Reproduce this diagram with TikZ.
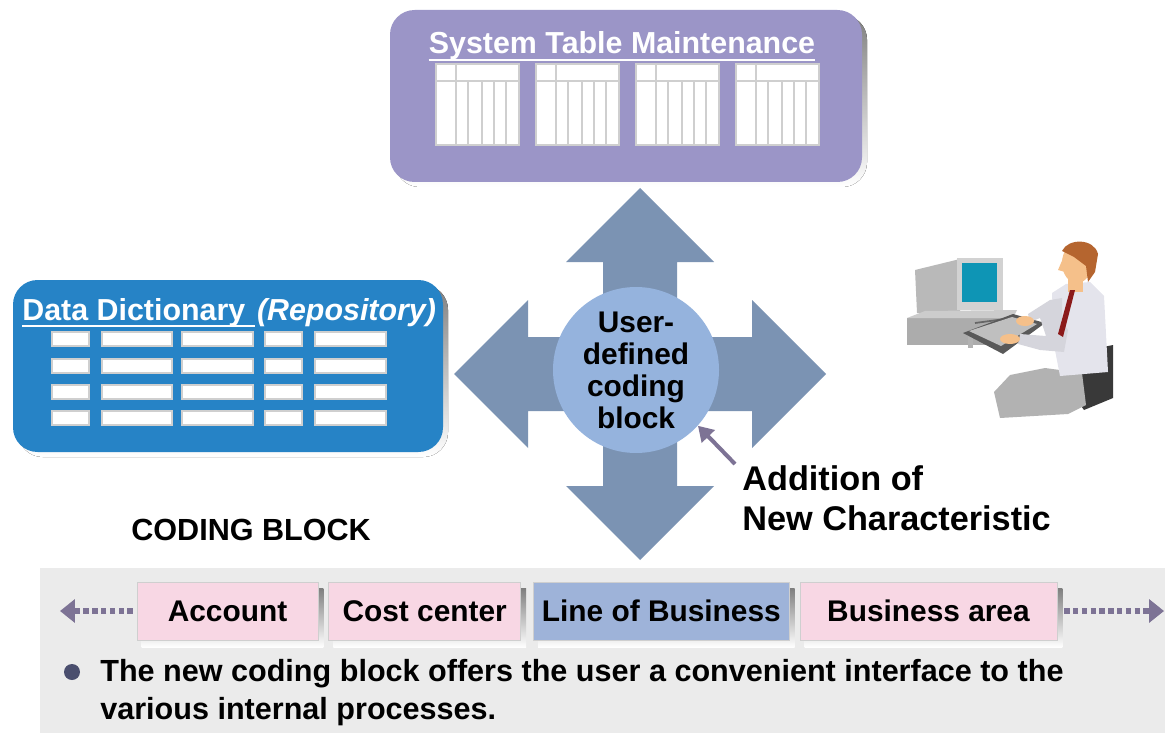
\documentclass[tikz,border=0pt]{standalone}
\usepackage{fontspec}
\setmainfont{Liberation Sans}
\usetikzlibrary{positioning}
\usetikzlibrary{calc}
\usetikzlibrary{math}
\usetikzlibrary{arrows.meta}
\usetikzlibrary{backgrounds}

\definecolor{mauve}{HTML}{9B95C7}
\definecolor{dictblue}{HTML}{2683C6}
\definecolor{crossblue}{HTML}{7B93B3}
\definecolor{blockblue}{HTML}{95B3DD}
\definecolor{fieldpink}{HTML}{F8D7E4}
\definecolor{lobblue}{HTML}{9EB3D9}
\definecolor{panelgray}{HTML}{EBEBEB}
\definecolor{dotpurple}{HTML}{7D7395}
\definecolor{shade}{HTML}{8C8C8C}
\definecolor{gridline}{HTML}{CFCFCF}
\definecolor{screen}{HTML}{0E95B5}
\definecolor{skin}{HTML}{F5C08A}
\definecolor{hair}{HTML}{B5652F}
\definecolor{tie}{HTML}{8B1A1A}
\definecolor{shirt}{HTML}{E4E4EC}
\definecolor{bulletc}{HTML}{4A4E6E}

\tikzset{
    bigbox/.style={rounded corners=14pt},
    field/.style={fill=white, draw=gridline, line width=1pt},
    grid/.style={draw=gridline, line width=1.2pt},
    codebox/.style={draw=gridline, fill=fieldpink, minimum height=1.16cm, inner sep=0pt,
        font=\fontsize{17}{19}\selectfont\bfseries},
    dotarrow/.style={dotpurple, line width=3.2pt, dash pattern=on 3pt off 2pt,
        -{Triangle[length=8.5pt, width=13pt, sep=0pt]}},
}

\begin{document}
\begin{tikzpicture}[x=0.02cm, y=-0.02cm]
    \tikzmath{\r = 83;}
    \useasboundingbox (0,0) rectangle (1165,733);

    % system tables
    \fill[bigbox, shade] (395,15) rectangle (867,187);
    \fill[bigbox, mauve] (390,10) rectangle (862,182);
    \node[anchor=base, inner sep=0pt, text=white, font=\fontsize{17.3}{19}\selectfont\bfseries]
        (systitle) at (622,54) {System Table Maintenance};
    \draw[white, line width=1.6pt] ($(systitle.base west)+(0,6)$) -- ($(systitle.base east)+(0,6)$);
    \foreach \tx in {436,536,636,736} {
        \fill[white] (\tx,64) rectangle +(83,81);
        \draw[grid] (\tx,64) rectangle +(83,81);
        \draw[grid] (\tx,81) -- +(83,0);
        \draw[grid] (\tx+20,64) -- +(0,81);
        \foreach \c in {32,46,58,70}
            \draw[grid] (\tx+\c,81) -- +(0,64);
    }

    % data dictionary
    \fill[bigbox, shade] (18,285) rectangle (448,457);
    \fill[bigbox, dictblue] (13,280) rectangle (443,452);
    \node[anchor=base west, inner sep=0pt, text=white, font=\fontsize{17.3}{19}\selectfont\bfseries]
        (ddname) at (22,320) {Data Dictionary};
    \node[anchor=base west, inner sep=0pt, text=white, font=\fontsize{17.3}{19}\selectfont\bfseries\itshape]
        (ddrepo) at ($(ddname.base east)+(11,0)$) {(Repository)};
    \draw[white, line width=1.6pt] ($(ddname.base west)+(0,6)$) -- ($(ddrepo.base west)+(-2,6)$);
    \foreach \y in {332,359,385,411} {
        \foreach \xa/\xb in {52/89,102/172,182/253,265/302,315/386}
            \draw[field] (\xa,\y) rectangle (\xb,\y+14);
    }

    % cross of arrows
    \coordinate (C) at (640,374);
    \foreach \a in {0,90,180,270}
        \fill[crossblue, rotate around={\a:(C)}] ($(C)+(-37,0)$) -- ++(0,-112) -- ++(-37,0)
            -- ($(C)+(0,-186)$) -- ($(C)+(74,-112)$) -- ++(-37,0) -- ($(C)+(37,0)$) -- cycle;
    \node[circle, fill=blockblue, minimum size=2*\r*0.02cm, inner sep=0pt, align=center,
        font=\fontsize{17}{18.2}\selectfont\bfseries] (block) at (636,370)
        {User-\\defined\\coding\\block};

    \node[anchor=north west, inner sep=0pt, align=left, font=\fontsize{19.5}{22.8}\selectfont\bfseries]
        (addition) at (742,465) {Addition of\\New Characteristic};
    \draw[dotpurple, line width=2.3pt, -{Triangle[length=8.5pt, width=10pt]}]
        ($(addition.north west)+(-7,-1)$) -- (block.-42);

    % user at the computer
    \fill[gray!55] (915,270) -- (960,259) -- (960,313) -- (917,313) -- cycle;
    \fill[gray!35] (957,258) rectangle (1003,310);
    \fill[screen] (962,263) rectangle (997,302);
    \fill[gray!65] (907,318) rectangle (1013,345);
    \fill[gray!40] (907,318) -- (925,311) -- (1017,310) -- (1013,318) -- cycle;
    \draw[gray!80!black, line width=1pt] (975,323) -- (1005,319);
    \fill[gray!60] (968,336) rectangle (973,348);
    \fill[gray!70!black] (963,333) -- (1013,314) -- (1045,323) -- (1003,354) -- cycle;
    \fill[gray!50] (969,331) -- (1012,317) -- (1037,324) -- (1001,346) -- cycle;
    \fill[gray!45!black] (1078,352) -- (1113,345) -- (1113,398) -- (1084,410) -- (1073,395) -- cycle;
    \fill[gray!60] (994,392) -- (1010,375) -- (1045,368) -- (1082,373) -- (1086,405)
        -- (1068,414) -- (1000,418) -- cycle;
    \fill[shirt] (1052,293) -- (1066,284) -- (1090,282) -- (1104,296) -- (1108,372)
        -- (1060,376) -- (1054,345) -- cycle;
    \fill[shirt!85!gray] (1040,318) -- (1058,316) -- (1068,330) -- (1064,352) -- (1040,350)
        -- (1018,344) -- (1020,334) -- (1046,336) -- cycle;
    \fill[shirt!85!gray] (1050,300) -- (1062,298) -- (1062,320) -- (1040,318) -- (1030,322)
        -- (1028,314) -- cycle;
    \fill[skin] (1025,321) ellipse (9 and 5);
    \fill[skin] (1010,339) ellipse (10 and 5);
    \fill[skin] (1068,276) rectangle (1083,292);
    \fill[tie] (1070,290) -- (1075,290) -- (1063,337) -- (1058,334) -- cycle;
    \fill[skin] (1077,263) ellipse (15 and 20);
    \fill[skin] (1064,256) -- (1058,270) -- (1065,272) -- cycle;
    \fill[hair] (1062,251) .. controls (1068,238) and (1094,238) .. (1098,254) -- (1095,272)
        -- (1088,282) -- (1086,266) -- (1074,257) -- cycle;

    \node[anchor=west, inner sep=0pt, font=\fontsize{17.4}{19}\selectfont\bfseries]
        (codingblock) at (131,530) {CODING BLOCK};

    % coding block panel
    \node[codebox, minimum width=3.62cm] (account) at (227.5,611) {Account};
    \node[codebox, minimum width=3.84cm, right=0.2cm of account] (cost) {Cost center};
    \node[codebox, minimum width=5.12cm, right=0.24cm of cost, fill=lobblue] (lob) {Line of Business};
    \node[codebox, minimum width=5.14cm, right=0.2cm of lob] (busarea) {Business area};
    \begin{scope}[on background layer]
        \fill[panelgray] (40,568) rectangle (1165,733);
        \foreach \b in {account,cost,lob,busarea}
            \fill[shade] ($(\b.north west)+(5,7)$) rectangle ($(\b.south east)+(5,7)$);
    \end{scope}
    \coordinate (leftend) at (60,611);
    \coordinate (rightend) at (1164,611);
    \draw[dotarrow] ($(account.west)+(-4,0)$) -- (leftend);
    \draw[dotarrow] ($(busarea.east)+(7,0)$) -- (rightend);

    \node[circle, fill=bulletc, minimum size=0.32cm, inner sep=0pt] (dot) at (72,672) {};
    \node[anchor=north west, inner sep=0pt, align=left, font=\fontsize{17.4}{21.6}\selectfont\bfseries]
        (note) at (100,659) {The new coding block offers the user a convenient interface to the\\
        various internal processes.};
\end{tikzpicture}
\end{document}
